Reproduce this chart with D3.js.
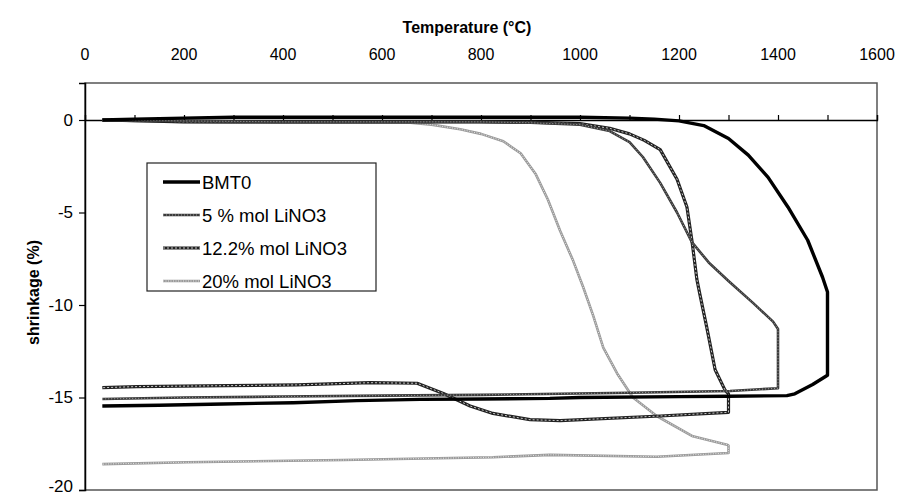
<!DOCTYPE html>
<html>
<head>
<meta charset="utf-8">
<script src="https://cdn.jsdelivr.net/npm/d3@7/dist/d3.min.js"></script>
<style>
  html, body { margin: 0; padding: 0; background: #fff; }
  svg { display: block; font-family: Arial, "Liberation Sans", sans-serif; }
</style>
</head>
<body>
<svg id="chart" width="900" height="496"></svg>
<script>
// Dilatometer runs: heating branch, hold at peak, then cooling branch.
const bmt0Temp = [35, 100, 200, 300, 400, 500, 600, 700, 800, 900, 1000, 1100, 1150, 1200, 1250, 1300, 1340, 1380, 1420, 1460, 1490, 1500, 1500, 1470, 1434, 1418, 1300, 1200, 1000, 939, 800, 677, 549, 421, 279, 150, 35];
const bmt0Shrink = [0, 0.05, 0.1, 0.15, 0.15, 0.15, 0.15, 0.15, 0.15, 0.15, 0.15, 0.1, 0.05, -0.05, -0.3, -1.0, -1.9, -3.1, -4.7, -6.5, -8.5, -9.3, -13.8, -14.3, -14.8, -14.9, -14.93, -14.95, -15.0, -15.05, -15.08, -15.1, -15.17, -15.28, -15.35, -15.42, -15.46];

const li5Temp = [35, 200, 400, 600, 800, 900, 1000, 1060, 1100, 1127, 1162, 1196, 1226, 1260, 1300, 1350, 1390, 1400, 1400, 1303, 1100, 960, 800, 600, 400, 200, 35];
const li5Shrink = [0, -0.05, -0.1, -0.1, -0.1, -0.15, -0.25, -0.6, -1.2, -2.0, -3.4, -5.0, -6.6, -7.7, -8.7, -9.9, -10.9, -11.3, -14.5, -14.65, -14.74, -14.8, -14.86, -14.9, -14.95, -15.0, -15.08];

const li12Temp = [35, 200, 400, 600, 800, 900, 1000, 1060, 1100, 1130, 1162, 1196, 1216, 1226, 1236, 1242, 1256, 1273, 1293, 1300, 1300, 1162, 960, 899, 824, 778, 724, 671, 576, 428, 287, 105, 35];
const li12Shrink = [0, -0.1, -0.1, -0.1, -0.1, -0.12, -0.2, -0.45, -0.75, -1.1, -1.6, -3.2, -4.7, -6.5, -8.6, -9.4, -11.2, -13.5, -14.6, -14.8, -15.8, -16.0, -16.25, -16.2, -15.86, -15.46, -14.78, -14.23, -14.2, -14.32, -14.36, -14.41, -14.47];

const li20Temp = [35, 100, 200, 300, 400, 500, 600, 657, 700, 758, 800, 845, 880, 910, 935, 960, 986, 1006, 1027, 1047, 1075, 1107, 1155, 1228, 1297, 1300, 1300, 1155, 939, 824, 521, 206, 35];
const li20Shrink = [0, -0.05, -0.1, -0.15, -0.15, -0.15, -0.15, -0.15, -0.25, -0.5, -0.75, -1.15, -1.8, -2.9, -4.3, -6.0, -7.6, -9.0, -10.6, -12.3, -13.7, -15.0, -16.0, -17.1, -17.55, -17.6, -18.0, -18.2, -18.1, -18.23, -18.38, -18.5, -18.6];

const seriesNames = ["BMT0", "5 % mol LiNO3", "12.2% mol LiNO3", "20% mol LiNO3"];
const xTickValues = [0, 200, 400, 600, 800, 1000, 1200, 1400, 1600];
const yTickValues = [0, -5, -10, -15, -20];

const series = [
  { name: seriesNames[0], t: bmt0Temp, s: bmt0Shrink,
    outer: { stroke: "#000", width: 3.4 }, inner: null },
  { name: seriesNames[1], t: li5Temp, s: li5Shrink,
    outer: { stroke: "#3a3a3a", width: 2.6 }, inner: { stroke: "#bdbdbd", width: 0.8, dash: "1,2" } },
  { name: seriesNames[2], t: li12Temp, s: li12Shrink,
    outer: { stroke: "#222", width: 3.2 }, inner: { stroke: "#c8c8c8", width: 1, dash: "2,2" } },
  { name: seriesNames[3], t: li20Temp, s: li20Shrink,
    outer: { stroke: "#9a9a9a", width: 2.6 }, inner: { stroke: "#eeeeee", width: 0.9, dash: "1,1.5" } }
];

const plot = { left: 85, right: 877, top: 83, bottom: 490 };
const svg = d3.select("#chart");

const x = d3.scaleLinear().domain([0, 1600]).range([plot.left, plot.right]);
const y = d3.scaleLinear().domain([-20, 2]).range([plot.bottom, plot.top]);

// plot-area frame
svg.append("rect")
  .attr("x", plot.left).attr("y", plot.top)
  .attr("width", plot.right - plot.left).attr("height", plot.bottom - plot.top)
  .attr("fill", "none").attr("stroke", "#555").attr("stroke-width", 1.5);

// x axis sits on the zero line, ticks pointing up, labels along the top
const xAxisLine = d3.axisTop(x).tickValues(d3.range(0, 1601, 100)).tickSize(5).tickFormat("");
svg.append("g").attr("transform", `translate(0,${y(0)})`).call(xAxisLine)
  .call(g => g.select(".domain").attr("stroke", "#000").attr("stroke-width", 1.3))
  .call(g => g.selectAll(".tick line").attr("stroke", "#000").attr("stroke-width", 1.2));

svg.append("g").selectAll("text").data(xTickValues).join("text")
  .attr("x", d => x(d)).attr("y", 60)
  .attr("text-anchor", "middle")
  .attr("font-size", 16).attr("fill", "#000")
  .text(d => d);

// y axis (hyphen as the minus sign)
const yAxis = d3.axisLeft(y).tickValues(yTickValues).tickSize(6).tickPadding(6)
  .tickFormat(d => String(d));
svg.append("g").attr("transform", `translate(${plot.left},0)`).call(yAxis)
  .call(g => g.select(".domain").attr("stroke", "#000").attr("stroke-width", 1.5))
  .call(g => g.selectAll(".tick line").attr("stroke", "#000").attr("stroke-width", 1.2))
  .call(g => g.selectAll(".tick text").attr("font-size", 17).attr("fill", "#000")
    .attr("font-family", "Arial, 'Liberation Sans', sans-serif")
    .attr("dy", d => d === -20 ? "0.1em" : "0.32em"));

// axis titles
svg.append("text").attr("x", 467).attr("y", 33)
  .attr("text-anchor", "middle").attr("font-size", 16).attr("font-weight", "bold")
  .text("Temperature (°C)");
svg.append("text")
  .attr("transform", `translate(39,${(plot.top + plot.bottom) / 2 + 6}) rotate(-90)`)
  .attr("text-anchor", "middle").attr("font-size", 16).attr("font-weight", "bold")
  .text("shrinkage (%)");

// curves
const line = d3.line().x(d => x(d[0])).y(d => y(d[1]));
const drawOrder = [3, 2, 1, 0];
const curves = svg.append("g");
drawOrder.forEach(i => {
  const sr = series[i];
  const pts = sr.t.map((t, k) => [t, sr.s[k]]);
  curves.append("path").datum(pts).attr("d", line)
    .attr("fill", "none").attr("stroke", sr.outer.stroke)
    .attr("stroke-width", sr.outer.width).attr("stroke-linejoin", "round");
  if (sr.inner) {
    curves.append("path").datum(pts).attr("d", line)
      .attr("fill", "none").attr("stroke", sr.inner.stroke)
      .attr("stroke-width", sr.inner.width).attr("stroke-dasharray", sr.inner.dash);
  }
});

// legend
const legend = svg.append("g");
legend.append("rect").attr("x", 147).attr("y", 163).attr("width", 229).attr("height", 128)
  .attr("fill", "#fff").attr("stroke", "#222").attr("stroke-width", 1.2);
series.forEach((sr, i) => {
  const ly = 182 + i * 33;
  legend.append("line").attr("x1", 163).attr("x2", 200).attr("y1", ly).attr("y2", ly)
    .attr("stroke", sr.outer.stroke).attr("stroke-width", sr.outer.width);
  if (sr.inner) {
    legend.append("line").attr("x1", 163).attr("x2", 200).attr("y1", ly).attr("y2", ly)
      .attr("stroke", sr.inner.stroke).attr("stroke-width", sr.inner.width)
      .attr("stroke-dasharray", sr.inner.dash);
  }
  legend.append("text").attr("x", 202).attr("y", ly + 6.5)
    .attr("font-size", 18.5).attr("fill", "#000").text(sr.name);
});
</script>
</body>
</html>
